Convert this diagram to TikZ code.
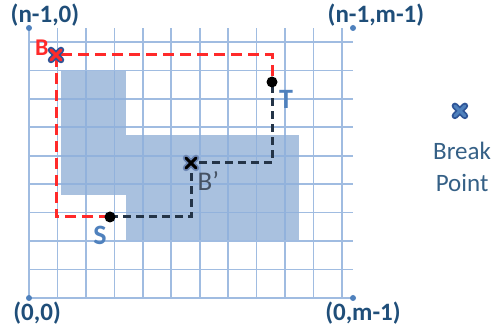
\documentclass[tikz,border=0pt]{standalone}
\usepackage{fontspec}
\setmainfont{Carlito}

\definecolor{gridblue}{HTML}{8FB0DC}
\definecolor{regionblue}{HTML}{A9C1DF}
\definecolor{labelblue}{HTML}{1F4E79}
\definecolor{pointblue}{HTML}{4F81BD}
\definecolor{markblue}{HTML}{2F5597}
\definecolor{pathred}{HTML}{FF2A2A}
\definecolor{pathdark}{HTML}{243447}

\begin{document}
\begin{tikzpicture}[x=27pt,y=27pt,
  gridline/.style={draw=gridblue, line width=1.6pt, opacity=0.85},
  region/.style={fill=regionblue},
  corner/.style={font=\bfseries\fontsize{25}{30}\selectfont, text=labelblue},
  pointlabel/.style={font=\bfseries\fontsize{28}{32}\selectfont, text=pointblue},
  redpath/.style={draw=pathred, line width=3pt, dash pattern=on 11pt off 6pt},
  darkpath/.style={draw=pathdark, line width=3pt, dash pattern=on 8pt off 5pt},
  xouter/.style={line width=6.5pt, line cap=round},
  xinner/.style={line width=3pt, line cap=round}]

\useasboundingbox (-1.0741,-1.1111) rectangle (17.3704,11.0370);

\coordinate (origin) at (0,0);
\coordinate (top-left) at (0,10);
\coordinate (top-right) at (12,10);
\coordinate (bottom-right) at (12,0);

\coordinate (s-point) at (3,3);
\coordinate (b-point) at (1,9);
\coordinate (b-prime) at (6,5);
\coordinate (t-point) at (9,8);

\coordinate (break-mark) at (15.96,6.93);

% searched regions
\fill[region] (1.2,3.8) rectangle (3.6,8.4);
\fill[region] (3.6,2.15) rectangle (10,6.05);

\draw[gridline] (origin) grid (top-right);

% paths
\draw[redpath] (s-point) -| (b-point) -| (t-point);
\draw[darkpath] (s-point) -| (b-prime) -| (t-point);

\fill[pointblue] (origin) circle (3pt);
\fill[pointblue] (top-left) circle (3pt);
\fill[pointblue] (top-right) circle (3pt);
\fill[pointblue] (bottom-right) circle (3pt);

\fill[black] (s-point) circle (5.5pt);
\fill[black] (t-point) circle (5.5pt);

% break points
\draw[xouter, markblue] ([xshift=-5pt,yshift=-5pt]b-point) -- ([xshift=5pt,yshift=5pt]b-point)
  ([xshift=-5pt,yshift=5pt]b-point) -- ([xshift=5pt,yshift=-5pt]b-point);
\draw[xinner, pathred] ([xshift=-5pt,yshift=-5pt]b-point) -- ([xshift=5pt,yshift=5pt]b-point)
  ([xshift=-5pt,yshift=5pt]b-point) -- ([xshift=5pt,yshift=-5pt]b-point);

\draw[xouter, markblue!70] ([xshift=-5pt,yshift=-5pt]b-prime) -- ([xshift=5pt,yshift=5pt]b-prime)
  ([xshift=-5pt,yshift=5pt]b-prime) -- ([xshift=5pt,yshift=-5pt]b-prime);
\draw[xinner, black] ([xshift=-5pt,yshift=-5pt]b-prime) -- ([xshift=5pt,yshift=5pt]b-prime)
  ([xshift=-5pt,yshift=5pt]b-prime) -- ([xshift=5pt,yshift=-5pt]b-prime);

\draw[xouter, markblue] ([xshift=-5pt,yshift=-5pt]break-mark) -- ([xshift=5pt,yshift=5pt]break-mark)
  ([xshift=-5pt,yshift=5pt]break-mark) -- ([xshift=5pt,yshift=-5pt]break-mark);
\draw[xinner, pointblue] ([xshift=-5pt,yshift=-5pt]break-mark) -- ([xshift=5pt,yshift=5pt]break-mark)
  ([xshift=-5pt,yshift=5pt]break-mark) -- ([xshift=5pt,yshift=-5pt]break-mark);

% labels
\node[corner] (label-top-left) at (0.59,10.48) {(n-1,0)};
\node[corner] (label-top-right) at (12.85,10.48) {(n-1,m-1)};
\node[corner] (label-origin) at (0.30,-0.56) {(0,0)};
\node[corner] (label-bottom-right) at (12.37,-0.56) {(0,m-1)};

\node[font=\bfseries\fontsize{24}{28}\selectfont, text=pathred] (label-b) at (0.48,9.28) {B};
\node[pointlabel] (label-t) at (9.52,7.35) {T};
\node[pointlabel] (label-s) at (2.63,2.33) {S};
\node[font=\fontsize{27}{32}\selectfont, text=pathdark!85] (label-b-prime) at (6.64,4.33) {B’};

\node[font=\fontsize{25}{32}\selectfont, text=labelblue!90, align=center] (legend) at (16.04,4.85) {Break\\Point};

\end{tikzpicture}
\end{document}
